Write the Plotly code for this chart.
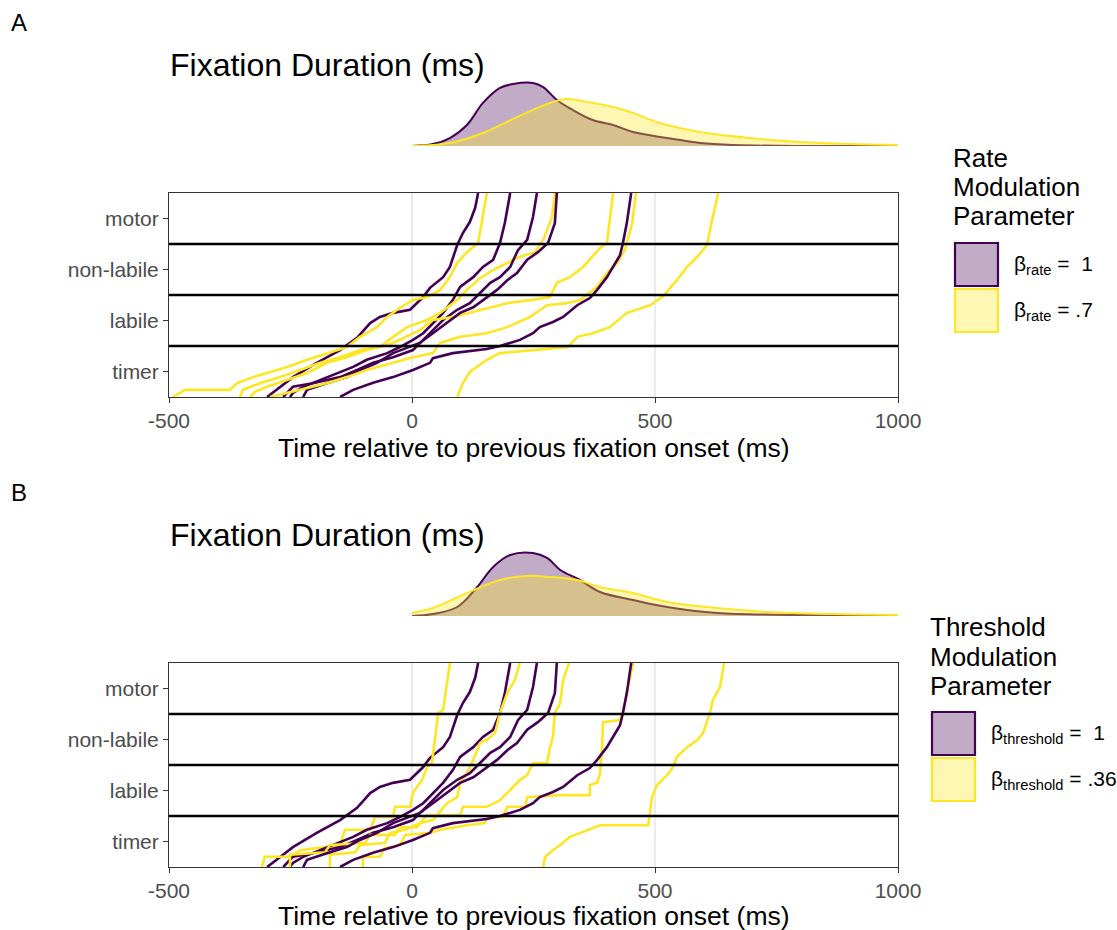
import plotly.graph_objects as go

# ---------------- data ----------------
categories = ["timer", "labile", "non-labile", "motor"]
x_ticks = [-500, 0, 500, 1000]
x_tick_labels = ["-500", "0", "500", "1000"]

# Density of fixation durations (x: ms, y: density x 1e-3)
dens_x_a_rate1 = [0, 43, 78, 113, 146, 181, 208, 249, 270, 298, 331, 372, 414, 455, 525, 593, 661, 798, 1000]
dens_y_a_rate1 = [0, 0.13, 0.53, 1.4, 2.87, 3.87, 4.13, 4.2, 3.93, 3.07, 2.4, 1.73, 1.4, 0.93, 0.53, 0.2, 0.07, 0, 0]
dens_x_a_rate07 = [0, 78, 146, 216, 284, 319, 360, 414, 455, 510, 593, 696, 798, 901, 1000]
dens_y_a_rate07 = [0, 0.2, 0.87, 1.93, 2.87, 3.13, 2.93, 2.6, 2.2, 1.53, 0.93, 0.53, 0.27, 0.13, 0.07]

dens_x_b_thr1 = [0, 43, 93, 134, 167, 202, 249, 278, 305, 346, 387, 455, 525, 628, 798, 1000]
dens_y_b_thr1 = [0, 0.13, 0.6, 1.93, 3.27, 4.07, 4.2, 3.87, 3.07, 2.4, 1.6, 1.07, 0.6, 0.2, 0.07, 0]
dens_x_b_thr036 = [0, 43, 113, 181, 237, 284, 340, 387, 455, 525, 628, 731, 866, 1000]
dens_y_b_thr036 = [0.2, 0.53, 1.53, 2.4, 2.67, 2.6, 2.4, 1.93, 1.53, 0.93, 0.53, 0.27, 0.13, 0.07]

# Example trajectories, beta = 1 (time ms, accumulated level)
traj_base_t = [
    [-298, -245, -196, -148, -113, -86, -66, -39, -4, 23, 37, 64, 78, 93, 105, 119, 130, 136],
    [-251, -245, -224, -189, -154, -121, -93, -51, -25, 2, 23, 43, 64, 84, 99, 126, 146, 167, 181, 191, 202],
    [-265, -257, -245, -204, -148, -113, -80, -39, 2, 23, 43, 64, 93, 119, 140, 161, 181, 202, 218, 237, 249, 257],
    [-224, -216, -175, -134, -107, -72, -39, -4, 16, 43, 72, 99, 126, 154, 175, 196, 216, 237, 259, 280, 294, 298],
    [-148, -121, -80, -39, 2, 37, 43, 84, 154, 181, 222, 249, 263, 290, 311, 340, 366, 381, 401, 414, 428, 434, 442, 451],
]
traj_base_lvl = [
    [0.5, 0.89, 1.17, 1.42, 1.66, 1.95, 2.07, 2.15, 2.21, 2.46, 2.64, 2.85, 3.05, 3.48, 3.72, 3.93, 4.21, 4.5],
    [0.5, 0.58, 0.70, 0.83, 0.97, 1.09, 1.23, 1.36, 1.48, 1.62, 1.75, 1.95, 2.15, 2.40, 2.66, 2.85, 3.05, 3.19, 3.52, 3.91, 4.5],
    [0.5, 0.58, 0.70, 0.77, 0.89, 1.03, 1.17, 1.28, 1.42, 1.62, 1.81, 2.01, 2.21, 2.34, 2.54, 2.74, 2.85, 3.05, 3.38, 3.58, 4.03, 4.5],
    [0.5, 0.64, 0.77, 0.89, 1.03, 1.17, 1.36, 1.48, 1.56, 1.75, 1.95, 2.15, 2.26, 2.46, 2.60, 2.79, 2.93, 3.19, 3.34, 3.52, 3.91, 4.5],
    [0.5, 0.64, 0.78, 0.89, 1.03, 1.17, 1.26, 1.36, 1.44, 1.5, 1.62, 1.75, 1.87, 1.97, 2.07, 2.30, 2.44, 2.60, 2.85, 3.05, 3.28, 3.52, 3.91, 4.5],
]

# beta_rate = .7
traj_rate_t = [
    [-492, -467, -375, -360, -327, -298, -257, -216, -175, -134, -107, -72, -51, -25, 2, 31, 58, 78, 93, 113, 136, 146, 154],
    [-354, -348, -313, -272, -230, -189, -148, -107, -66, -39, -10, 16, 31, 58, 93, 113, 140, 167, 196, 222, 253, 270, 288, 294],
    [-333, -323, -298, -257, -216, -175, -134, -93, -39, 16, 43, 84, 140, 196, 243, 284, 298, 325, 352, 372, 387, 401, 407, 414],
    [-292, -230, -175, -134, -93, -39, 2, 43, 58, 99, 154, 196, 243, 278, 319, 346, 366, 381, 401, 422, 438, 453, 461],
    [93, 105, 119, 154, 181, 257, 321, 340, 372, 407, 442, 490, 504, 517, 545, 566, 587, 607, 613, 630],
]
traj_rate_lvl = [
    [0.5, 0.64, 0.64, 0.77, 0.89, 0.97, 1.09, 1.23, 1.36, 1.48, 1.68, 1.87, 2.07, 2.25, 2.40, 2.46, 2.60, 2.85, 3.13, 3.34, 3.52, 4.03, 4.5],
    [0.5, 0.64, 0.77, 0.89, 1.03, 1.17, 1.28, 1.42, 1.48, 1.68, 1.87, 1.95, 2.01, 2.15, 2.40, 2.60, 2.83, 2.99, 3.13, 3.25, 3.34, 3.58, 4.03, 4.5],
    [0.5, 0.6, 0.70, 0.83, 0.97, 1.17, 1.28, 1.42, 1.56, 1.81, 2.01, 2.07, 2.21, 2.34, 2.40, 2.46, 2.74, 2.85, 3.05, 3.25, 3.42, 3.52, 4.03, 4.5],
    [0.5, 0.64, 0.77, 0.89, 1.03, 1.17, 1.28, 1.36, 1.56, 1.68, 1.75, 1.87, 2.07, 2.30, 2.34, 2.40, 2.54, 2.66, 2.93, 3.13, 3.38, 3.91, 4.5],
    [0.5, 0.775, 0.99, 1.23, 1.36, 1.42, 1.48, 1.68, 1.75, 1.87, 2.15, 2.30, 2.40, 2.48, 2.79, 3.05, 3.25, 3.48, 3.77, 4.5],
]

# beta_threshold = .36
traj_thr_t = [
    [-309, -303, -251, -230, -148, -138, -86, -76, -39, -35, -4, 2, 10, 21, 31, 41, 47, 54, 64, 78],
    [-169, -169, -117, -107, -56, -45, -14, 16, 43, 72, 93, 99, 113, 126, 140, 154, 171, 181, 196, 212, 222],
    [-251, -251, -179, -169, -97, -86, -35, -25, 10, 31, 99, 105, 154, 181, 202, 222, 237, 249, 278, 284, 290, 294, 305, 311, 323],
    [-101, -101, -66, -56, -25, -14, 37, 58, 113, 150, 154, 187, 196, 233, 237, 305, 366, 366, 381, 387, 391, 393, 428, 434, 442, 455],
    [270, 274, 290, 305, 325, 346, 377, 387, 486, 490, 494, 504, 525, 537, 545, 566, 587, 599, 613, 619, 634, 642],
]
traj_thr_lvl = [
    [0.5, 0.7, 0.7, 0.83, 0.93, 1.23, 1.23, 1.48, 1.48, 1.68, 1.68, 1.95, 2.07, 2.21, 2.46, 2.54, 2.99, 3.52, 3.58, 4.5],
    [0.5, 0.74, 0.79, 0.93, 0.97, 1.17, 1.23, 1.36, 1.42, 1.75, 1.87, 2.15, 2.34, 2.60, 2.93, 2.99, 3.13, 3.52, 3.91, 4.17, 4.5],
    [0.5, 0.74, 0.79, 0.93, 0.97, 1.13, 1.13, 1.28, 1.28, 1.52, 1.52, 1.68, 1.68, 1.81, 2.01, 2.21, 2.30, 2.54, 2.54, 2.85, 3.05, 3.52, 3.72, 4.17, 4.5],
    [0.5, 0.70, 0.70, 0.87, 0.93, 1.13, 1.17, 1.23, 1.32, 1.36, 1.48, 1.48, 1.68, 1.68, 1.87, 1.91, 1.91, 2.11, 2.15, 2.34, 2.85, 3.34, 3.38, 3.54, 3.91, 4.5],
    [0.5, 0.70, 0.83, 0.93, 1.09, 1.17, 1.28, 1.32, 1.32, 1.56, 1.87, 2.11, 2.30, 2.46, 2.66, 2.85, 2.99, 3.13, 3.52, 3.77, 4.03, 4.5],
]
stage_bounds = [1.5, 2.5, 3.5]

# ---------------- style ----------------
PURPLE = "#440154"
YELLOW = "#FDE725"
PURPLE_FILL = "rgba(68,1,84,0.33)"
YELLOW_FILL = "rgba(253,231,37,0.35)"
FONT = "Liberation Sans, Arial, Helvetica, sans-serif"
W, H = 1117, 930


def px(x):
    return x / W


def py(y):
    return 1 - y / H


fig = go.Figure()

# Density traces
fig.add_trace(go.Scatter(x=dens_x_a_rate1, y=dens_y_a_rate1, mode="lines", line=dict(color=PURPLE, width=2, shape="spline"),
                         fill="tozeroy", fillcolor=PURPLE_FILL, xaxis="x2", yaxis="y2", showlegend=False, hoverinfo="skip"))
fig.add_trace(go.Scatter(x=dens_x_a_rate07, y=dens_y_a_rate07, mode="lines", line=dict(color=YELLOW, width=2, shape="spline"),
                         fill="tozeroy", fillcolor=YELLOW_FILL, xaxis="x2", yaxis="y2", showlegend=False, hoverinfo="skip"))
fig.add_trace(go.Scatter(x=dens_x_b_thr1, y=dens_y_b_thr1, mode="lines", line=dict(color=PURPLE, width=2, shape="spline"),
                         fill="tozeroy", fillcolor=PURPLE_FILL, xaxis="x4", yaxis="y4", showlegend=False, hoverinfo="skip"))
fig.add_trace(go.Scatter(x=dens_x_b_thr036, y=dens_y_b_thr036, mode="lines", line=dict(color=YELLOW, width=2, shape="spline"),
                         fill="tozeroy", fillcolor=YELLOW_FILL, xaxis="x4", yaxis="y4", showlegend=False, hoverinfo="skip"))

# Trajectories
for (xa, ya), (alt_t, alt_l) in [(("x", "y"), (traj_rate_t, traj_rate_lvl)), (("x3", "y3"), (traj_thr_t, traj_thr_lvl))]:
    for i in range(5):
        fig.add_trace(go.Scatter(x=traj_base_t[i], y=traj_base_lvl[i], mode="lines",
                                 line=dict(color=PURPLE, width=2.6),
                                 xaxis=xa, yaxis=ya, showlegend=False, hoverinfo="skip"))
        fig.add_trace(go.Scatter(x=alt_t[i], y=alt_l[i], mode="lines", line=dict(color=YELLOW, width=2.6),
                                 xaxis=xa, yaxis=ya, showlegend=False, hoverinfo="skip"))

x_dom = [px(169), px(898)]
step_x = dict(domain=x_dom, range=[-500, 1000], tickvals=x_ticks, ticktext=x_tick_labels, ticks="outside", ticklen=5,
              tickcolor="#333333", showline=True, linecolor="#333333", linewidth=1, mirror=True, showgrid=True,
              gridcolor="#EBEBEB", gridwidth=1.5, zeroline=False, automargin=False,
              tickfont=dict(size=21, color="#4D4D4D", family=FONT))
step_y = dict(range=[0.5, 4.5], tickvals=[1, 2, 3, 4], ticktext=categories, ticks="outside", ticklen=5,
              tickcolor="#333333", showline=True, linecolor="#333333", linewidth=1, mirror=True, showgrid=False,
              zeroline=False, automargin=False, tickfont=dict(size=21, color="#4D4D4D", family=FONT))
dens_x = dict(domain=x_dom, range=[-500, 1000], visible=False, automargin=False)
dens_y_range = [0, 4.2 * 76 / 63]

fig.update_layout(
    width=W, height=H, margin=dict(l=0, r=0, t=0, b=0, pad=0, autoexpand=False), paper_bgcolor="white",
    plot_bgcolor="rgba(0,0,0,0)", font=dict(family=FONT), showlegend=False,
    xaxis=dict(step_x, anchor="y"),
    yaxis=dict(step_y, domain=[py(397), py(193)], anchor="x"),
    xaxis2=dict(dens_x, anchor="y2"),
    yaxis2=dict(domain=[py(146), py(70)], range=dens_y_range, visible=False, anchor="x2", automargin=False),
    xaxis3=dict(step_x, anchor="y3"),
    yaxis3=dict(step_y, domain=[py(867), py(663)], anchor="x3"),
    xaxis4=dict(dens_x, anchor="y4"),
    yaxis4=dict(domain=[py(616), py(540)], range=dens_y_range, visible=False, anchor="x4", automargin=False),
)

shapes = []
for xref, yref in [("x", "y"), ("x3", "y3")]:
    for b in stage_bounds:
        shapes.append(dict(type="line", xref=xref, yref=yref, x0=-500, x1=1000, y0=b, y1=b,
                           line=dict(color="black", width=2.4), layer="above"))

annotations = []


def ann(text, x, y, size, color="black", xanchor="left", yanchor="middle"):
    annotations.append(dict(text=text, x=px(x), y=py(y), xref="paper", yref="paper", showarrow=False,
                            xanchor=xanchor, yanchor=yanchor, font=dict(size=size, color=color, family=FONT)))


# Panel labels & titles
ann("A", 9, 22, 24)
ann("B", 9, 492, 24)
ann("Fixation Duration (ms)", 168, 65, 32)
ann("Fixation Duration (ms)", 168, 535, 32)
ann("Time relative to previous fixation onset (ms)", 533.5, 448, 26.5, xanchor="center")
ann("Time relative to previous fixation onset (ms)", 533.5, 916, 26.5, xanchor="center")

# Legend A
for i, t in enumerate(["Rate", "Modulation", "Parameter"]):
    ann(t, 951, 158 + 29 * i, 26)
# Legend B
for i, t in enumerate(["Threshold", "Modulation", "Parameter"]):
    ann(t, 928, 627 + 29.5 * i, 26)


def key(x0, y0, fill, line):
    shapes.append(dict(type="rect", xref="paper", yref="paper", x0=px(x0), x1=px(x0 + 43), y0=py(y0 + 43), y1=py(y0),
                       fillcolor=fill, line=dict(color=line, width=2.2)))


key(955, 243, "#C1ABC7", PURPLE)
key(955, 289, "#FEF7B3", YELLOW)
ann("β<sub>rate</sub> =  1", 1012, 265, 21)
ann("β<sub>rate</sub> = .7", 1012, 311, 21)

key(932, 712, "#C1ABC7", PURPLE)
key(932, 758, "#FEF7B3", YELLOW)
ann("β<sub>threshold</sub> =  1", 989, 734, 21)
ann("β<sub>threshold</sub> = .36", 989, 780, 21)

fig.update_layout(shapes=shapes, annotations=annotations)
# remove the default page margin so the 1117x930 figure fills the window exactly
fig.write_html("out.html", config={"displayModeBar": False},
               post_script="document.body.style.margin='0';document.body.style.overflow='hidden';")
